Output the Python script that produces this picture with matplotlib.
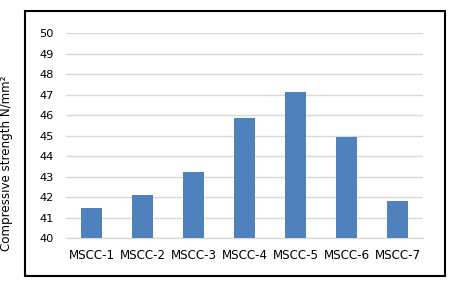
import matplotlib
matplotlib.use("Agg")
import matplotlib.pyplot as plt
from matplotlib.patches import Rectangle

categories = ["MSCC-1", "MSCC-2", "MSCC-3", "MSCC-4", "MSCC-5", "MSCC-6", "MSCC-7"]
values = [41.46, 42.13, 43.25, 45.85, 47.15, 44.94, 41.80]
yticks = [40, 41, 42, 43, 44, 45, 46, 47, 48, 49, 50]

plt.rcParams['font.family'] = ['DejaVu Sans']

fig = plt.figure(figsize=(4.56, 2.88), dpi=100)
ax = fig.add_axes([66/456, 1-238.3/288, 357/456, 205/288])

x = range(len(categories))
ax.bar(x, values, width=0.4, color="#4f81bd", zorder=3)
ax.set_ylim(40, 50)
ax.set_xlim(-0.5, len(categories)-0.5)
ax.set_yticks(yticks)
ax.set_xticks(list(x))
ax.set_xticklabels(categories, fontsize=8.6)
ax.grid(axis='y', color="#d9d9d9", linewidth=1, zorder=0)
for s in ['top', 'right', 'left']:
    ax.spines[s].set_visible(False)
ax.spines['bottom'].set_color("#d9d9d9")
ax.spines['bottom'].set_linewidth(1)
ax.tick_params(axis='both', length=0, colors="#000000")
ax.tick_params(axis='y', pad=9, labelsize=8.2)
ax.tick_params(axis='x', pad=8)

fig.text(7/456, 1-163/288, "Compressive strength N/mm²", rotation=90,
         ha='center', va='center', fontsize=8.6)

fig.patches.append(Rectangle((25/456, 1-276/288), 420/456, 265/288,
                             transform=fig.transFigure, fill=False,
                             edgecolor="black", linewidth=1.5))

fig.savefig("out.png", dpi=100)
